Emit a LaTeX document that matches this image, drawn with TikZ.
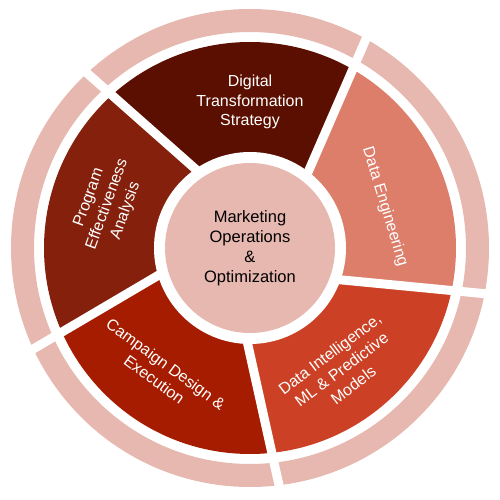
\documentclass[tikz,border=0pt]{standalone}
\usepackage{fontspec}
\setmainfont{Liberation Sans}
\usetikzlibrary{calc}
\definecolor{ringc}{HTML}{E6B8AF}
\definecolor{segA}{HTML}{5B0F00}
\definecolor{segB}{HTML}{DD7E6B}
\definecolor{segC}{HTML}{CC4125}
\definecolor{segD}{HTML}{A61C00}
\definecolor{segE}{HTML}{85200C}
\tikzset{
  segtext/.style={text=white, align=center, inner sep=0pt, font=\fontsize{16}{19.5}\selectfont},
  centertext/.style={circle, fill=ringc, minimum size=170pt, inner sep=0pt, align=center, text=black, font=\fontsize{16.5}{20}\selectfont},
  gapline/.style={white, line width=9pt}
}
\begin{document}
\begin{tikzpicture}[x=1pt,y=1pt]
\useasboundingbox (-250,-252) rectangle (250,248);
\def\off{23pt}
% coloured segments
\begin{scope}
\clip (0,0) circle (206pt);
\foreach \a/\c in {138.5/segA, 66.5/segB, -5.5/segC, -77.5/segD, -149.5/segE} {
  \pgfmathsetmacro\b{\a-72}
  \pgfmathsetmacro\m{\a-36}
  \fill[\c] ($(\a-90:\off)$) -- ($(\a:320pt)+(\a-90:\off)$) -- (\m:520pt)
     -- ($(\b:320pt)+(\b-90:\off)$) -- ($(\b-90:\off)$) -- cycle;
}
\end{scope}
\fill[white] (0,0) circle (96pt);
% outer ring
\fill[ringc, even odd rule] (0,0) circle (239pt) (0,0) circle (216pt);
% white gaps
\foreach \a in {138.5, 66.5, -5.5, -77.5, -149.5} {
  \draw[gapline] ($(\a:80pt)+(\a-90:\off)$) -- ($(\a:262pt)+(\a-90:\off)$);
}
% centre
\node[centertext] (core) at (0,0) {Marketing\\Operations\\\&\\Optimization};
% segment labels
\node[segtext] (dts) at (90:146pt) {Digital\\Transformation\\Strategy};
\node[segtext, rotate=-73] (den) at (17:141pt) {Data Engineering};
\node[segtext, rotate=37] (dim) at (-53:152pt) {Data Intelligence,\\ML \& Predictive\\Models};
\node[segtext, rotate=-36] (cde) at (234:153pt) {Campaign Design \&\\Execution};
\node[segtext, rotate=70] (pea) at (163:149pt) {Program\\Effectiveness\\Analysis};
\end{tikzpicture}
\end{document}
